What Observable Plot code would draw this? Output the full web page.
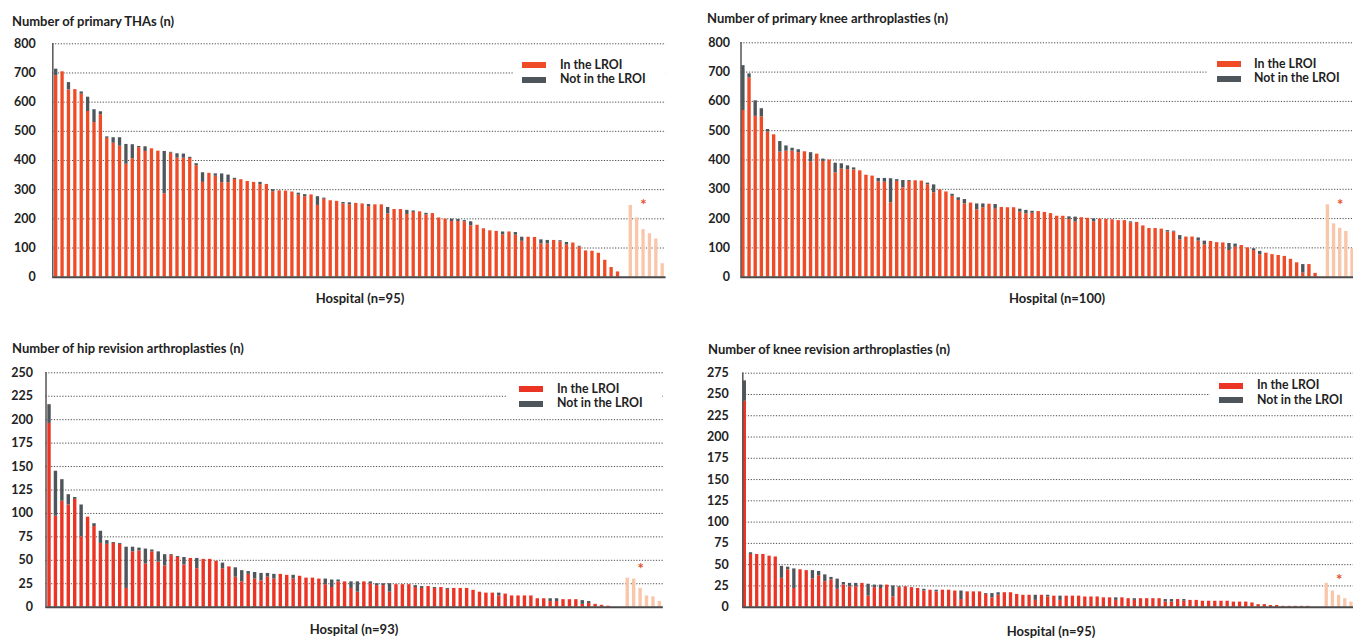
<!DOCTYPE html>
<html><head><meta charset="utf-8">
<script src="https://cdn.jsdelivr.net/npm/d3@7"></script>
<script src="https://cdn.jsdelivr.net/npm/@observablehq/plot@0.6"></script>
<style>
html,body{margin:0;padding:0;background:#fff;overflow:hidden;}
#root{position:relative;width:1353px;height:638px;overflow:hidden;font-family:Lato,"Open Sans",sans-serif;font-weight:700;color:#222;}
.abs{position:absolute;white-space:nowrap;font-size:13px;line-height:14px;}
.lg{font-size:12.3px;line-height:12px;}
.xlab{transform:translateX(-50%);}
.lgbox{position:absolute;background:#fff;}
.sw{position:absolute;width:24px;height:6px;}
svg{position:absolute;overflow:visible;}
</style></head><body><div id="root"></div>
<script>
// ---------- DATA ----------
// Panel 1: primary THAs
const thaTitle = "Number of primary THAs (n)";
const thaXLabel = "Hospital (n=95)";
const thaTotal = [713,704,667,643,635,617,574,567,481,478,478,455,454,448,447,440,432,431,428,423,422,411,389,358,356,354,354,350,339,334,328,325,325,318,300,296,295,292,288,283,282,276,271,262,260,256,255,253,251,249,248,248,239,232,232,229,227,224,219,218,203,199,199,198,194,190,178,166,159,157,155,155,153,137,137,136,128,126,126,125,119,117,106,90,89,82,58,33,18];
const thaInLROI = [691,704,642,643,627,568,530,557,476,459,449,387,406,444,431,440,432,286,425,408,408,407,382,325,356,346,324,324,335,334,328,325,317,318,293,296,295,292,281,276,282,246,267,262,260,251,248,253,251,242,248,248,217,232,232,215,222,224,213,218,203,199,191,191,189,176,178,166,159,157,145,155,144,123,137,136,114,114,126,121,110,117,103,90,89,82,58,33,18];
const thaOther = [246,203,163,149,131,46];
const thaTicks = [0,100,200,300,400,500,600,700,800];

// Panel 2: primary knee arthroplasties
const tkaTitle = "Number of primary knee arthroplasties (n)";
const tkaXLabel = "Hospital (n=100)";
const tkaTotal = [722,694,602,575,504,486,463,448,440,435,428,425,420,403,400,389,387,380,373,363,348,345,337,337,336,333,330,330,329,328,321,315,298,291,283,271,265,253,250,250,249,248,238,237,237,232,228,225,224,221,217,208,208,206,205,203,201,199,198,197,196,193,193,189,187,175,166,166,164,159,157,142,137,137,134,123,122,118,117,115,113,108,100,97,88,82,77,74,71,61,49,43,43,13];
const tkaInLROI = [569,680,549,547,495,486,427,430,430,425,428,394,420,395,400,356,369,367,366,363,348,345,325,324,254,327,305,327,329,328,315,288,298,291,276,262,250,253,230,237,249,232,238,237,237,222,216,218,224,221,217,208,208,197,188,203,201,189,198,197,196,193,193,185,187,175,166,166,164,154,154,128,137,137,123,110,122,118,117,91,102,108,100,91,76,82,77,74,71,61,49,14,43,13];
const tkaOther = [247,182,167,156,97];
const tkaTicks = [0,100,200,300,400,500,600,700,800];

// Panel 3: hip revision arthroplasties
const hrevTitle = "Number of hip revision arthroplasties  (n)";
const hrevXLabel = "Hospital (n=93)";
const hrevTotal = [216,145,136,120,117,109,96,89,81,71,69,68,64,64,63,62,61,59,56,56,54,53,52,52,51,51,49,47,43,42,39,38,37,36,36,35,35,34,34,33,31,31,30,30,29,29,27,27,27,27,27,25,25,25,24,24,24,23,22,22,21,21,20,20,20,20,18,16,15,15,15,14,12,12,12,12,9,9,9,9,8,8,8,7,6,3,2,1];
const hrevInLROI = [196,97,113,109,115,75,96,86,68,67,68,67,20,59,60,46,59,48,44,55,53,45,52,41,51,51,49,41,43,32,27,35,30,28,32,30,35,34,30,33,31,31,30,24,21,27,27,20,16,27,25,23,23,16,24,24,24,21,20,22,20,21,19,20,20,20,18,16,15,15,12,14,12,12,12,12,9,9,6,6,8,8,8,3,4,3,2,1];
const hrevOther = [31,30,20,12,11,6];
const hrevTicks = [0,25,50,75,100,125,150,175,200,225,250];

// Panel 4: knee revision arthroplasties
const krevTitle = "Number of knee revision arthroplasties (n)";
const krevXLabel = "Hospital (n=95)";
const krevTotal = [266,64,62,62,60,59,48,47,45,44,43,43,42,38,35,33,29,28,28,28,27,26,26,26,25,24,24,23,22,21,20,20,20,20,19,19,18,18,18,16,16,17,17,17,15,14,14,14,14,14,13,13,13,13,13,12,12,12,11,11,11,11,10,10,10,10,10,10,9,9,9,9,8,8,7,7,7,7,7,6,6,6,5,3,3,2,2,1,1,1,1,1];
const krevInLROI = [242,62,62,62,60,59,34,44,22,44,43,33,37,30,32,21,26,24,24,28,13,23,22,26,12,23,24,23,22,19,20,18,20,20,19,9,18,18,18,15,11,14,17,17,15,14,14,8,14,12,13,8,13,13,13,12,12,12,11,11,8,11,10,8,10,10,10,10,6,6,9,7,8,8,7,7,7,7,7,6,6,6,5,3,3,2,2,1,1,1,1,1];
const krevOther = [28,19,14,10,6];
const krevTicks = [0,25,50,75,100,125,150,175,200,225,250,275];

const legendLabels = ["In the LROI", "Not in the LROI"];

// ---------- STYLE ----------
const GREY = "#4f565b", LIGHT = "#f9c6aa", STAR = "#e8502a";
const root = document.getElementById("root");

function addText(txt, left, top, cls) {
  const d = document.createElement("div");
  d.className = "abs " + (cls || "");
  d.style.left = left + "px"; d.style.top = top + "px";
  d.textContent = txt;
  root.appendChild(d);
}
function addLegend(box, swX, sw1Y, sw2Y, txX, tx1Y, tx2Y, red) {
  const b = document.createElement("div");
  b.className = "lgbox";
  Object.assign(b.style, {left: box[0]+"px", top: box[1]+"px", width: box[2]+"px", height: box[3]+"px"});
  root.appendChild(b);
  [[sw1Y, red], [sw2Y, GREY]].forEach(([y, c]) => {
    const s = document.createElement("div");
    s.className = "sw";
    Object.assign(s.style, {left: swX+"px", top: y+"px", background: c});
    root.appendChild(s);
  });
  addText(legendLabels[0], txX, tx1Y - 6.5, "lg");
  addText(legendLabels[1], txX, tx2Y - 6.5, "lg");
}

function panel(c) {
  const nDark = c.total.length;
  const firstLight = nDark + c.gap + 1;
  const nSlots = firstLight + c.other.length - 1;
  const dark = c.total.map((t, i) => ({slot: i + 1, inL: c.inL[i], total: t}));
  const light = c.other.map((v, j) => ({slot: firstLight + j, v}));
  const star = [{slot: firstLight + 2, v: d3.max(c.other)}];
  const chart = Plot.plot({
    width: c.end - c.svgLeft, height: c.height,
    marginLeft: c.x0 - c.svgLeft, marginRight: 0,
    marginTop: c.yTopPx - c.svgTop, marginBottom: c.svgTop + c.height - c.y0px,
    x: {type: "band", domain: d3.range(1, nSlots + 1), paddingInner: c.pi, paddingOuter: c.po, round: false, axis: null},
    y: {domain: [0, c.ticks[c.ticks.length - 1]], axis: null},
    style: {fontFamily: "Lato, 'Open Sans', sans-serif", fontWeight: "bold", fontSize: "12.5px", color: "#222", background: "transparent"},
    marks: [
      Plot.gridY(c.ticks.filter(t => t > 0), {stroke: "#4a4a4a", strokeOpacity: 1, strokeWidth: 1, strokeDasharray: "1.2,1.6"}),
      Plot.barY(dark, {x: "slot", y1: 0, y2: "inL", fill: c.red}),
      Plot.barY(dark, {x: "slot", y1: "inL", y2: "total", fill: GREY}),
      Plot.barY(light, {x: "slot", y1: 0, y2: "v", fill: LIGHT}),
      Plot.text(star, {x: "slot", y: "v", text: () => "*", fill: STAR, fontSize: 15, fontWeight: "bold", dy: c.starDy}),
      Plot.ruleY([0], {stroke: "#4a4a4a", strokeWidth: 2}),
      Plot.frame({anchor: "left", stroke: "#555", strokeWidth: 1.5}),
      Plot.axisY({ticks: c.ticks, tickSize: 0, tickPadding: c.tickPadding, label: null, fontSize: 12.5, fontWeight: "bold"})
    ]
  });
  chart.style.left = c.svgLeft + "px";
  chart.style.top = c.svgTop + "px";
  root.appendChild(chart);
  addText(c.title, c.titleX, c.titleTop);
  addText(c.xlabel, c.xlabX, c.xlabTop, "xlab");
  addLegend(c.lg.box, c.lg.swX, c.lg.sw1Y, c.lg.sw2Y, c.lg.txX, c.lg.tx1Y, c.lg.tx2Y, c.red);
}

panel({title: thaTitle, xlabel: thaXLabel, total: thaTotal, inL: thaInLROI, other: thaOther, ticks: thaTicks,
  svgLeft: 0, svgTop: 35, height: 250, x0: 52.3, end: 665.6, yTopPx: 43.3, y0px: 276.7,
  tickPadding: 17, gap: 1, pi: 0.483, po: 0.27, red: "#ef4b27", starDy: 0,
  titleX: 12, titleTop: 14, xlabX: 360, xlabTop: 291,
  lg: {box: [513, 56, 152, 32], swX: 522, sw1Y: 62, sw2Y: 76.5, txX: 560, tx1Y: 65, tx2Y: 79.5}});

panel({title: tkaTitle, xlabel: tkaXLabel, total: tkaTotal, inL: tkaInLROI, other: tkaOther, ticks: tkaTicks,
  svgLeft: 680, svgTop: 35, height: 250, x0: 740.5, end: 1354.4, yTopPx: 42.3, y0px: 276.7,
  tickPadding: 11, gap: 1, pi: 0.45, po: 0.11, red: "#ef4b27", starDy: 0,
  titleX: 707, titleTop: 11, xlabX: 1057, xlabTop: 291,
  lg: {box: [1208, 55, 145, 32], swX: 1217, sw1Y: 61, sw2Y: 75.5, txX: 1254, tx1Y: 64, tx2Y: 78.5}});

panel({title: hrevTitle, xlabel: hrevXLabel, total: hrevTotal, inL: hrevInLROI, other: hrevOther, ticks: hrevTicks,
  svgLeft: 0, svgTop: 362, height: 252, x0: 45.5, end: 662.9, yTopPx: 372.3, y0px: 606.7,
  tickPadding: 13, gap: 2, pi: 0.47, po: 0.28, red: "#ec3424", starDy: -9,
  titleX: 12, titleTop: 341, xlabX: 354, xlabTop: 622,
  lg: {box: [507, 380, 155, 31], swX: 519, sw1Y: 386, sw2Y: 400.5, txX: 557, tx1Y: 389, tx2Y: 403.5}});

panel({title: krevTitle, xlabel: krevXLabel, total: krevTotal, inL: krevInLROI, other: krevOther, ticks: krevTicks,
  svgLeft: 680, svgTop: 362, height: 252, x0: 742.3, end: 1353, yTopPx: 372.7, y0px: 606.7,
  tickPadding: 14, gap: 2, pi: 0.467, po: 0.06, red: "#ec3424", starDy: -3,
  titleX: 708, titleTop: 342, xlabX: 1051, xlabTop: 624,
  lg: {box: [1210, 377, 143, 31], swX: 1219, sw1Y: 382.5, sw2Y: 397, txX: 1257, tx1Y: 385.5, tx2Y: 400}});
</script></body></html>
